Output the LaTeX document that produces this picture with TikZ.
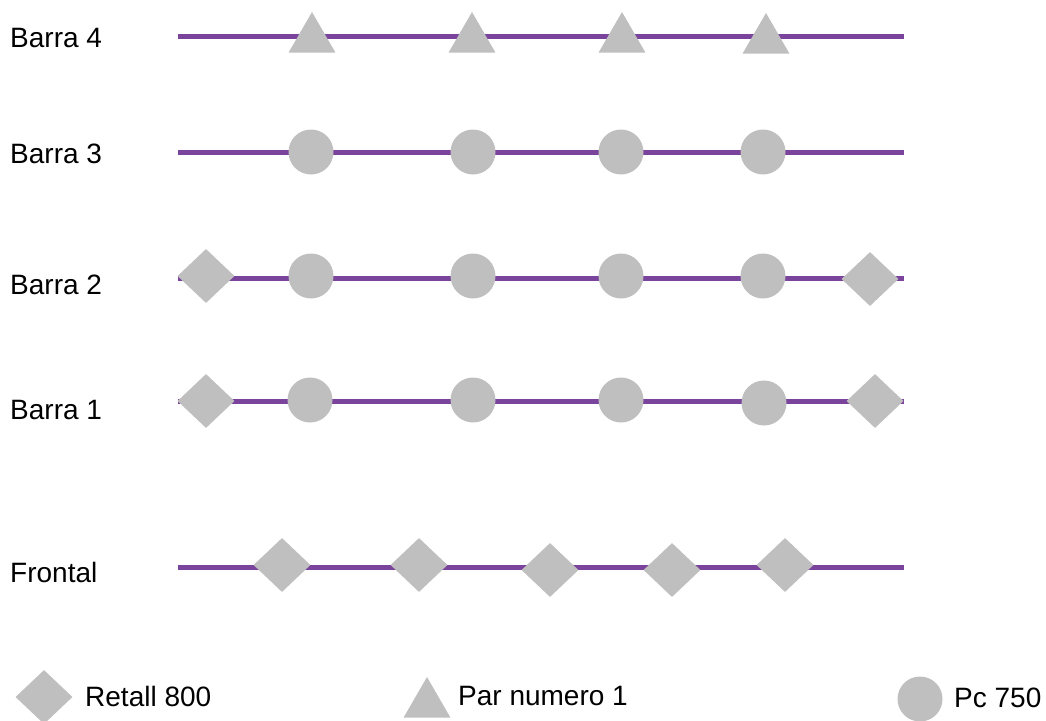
\documentclass[tikz,border=0pt]{standalone}
\usepackage{fontspec}
\setmainfont{Liberation Sans}
\usetikzlibrary{shapes.geometric}
\definecolor{barpurple}{RGB}{122,68,157}
\definecolor{shapegray}{RGB}{191,191,191}
\tikzset{
  bar/.style={draw=barpurple,line width=5pt},
  lbl/.style={anchor=base west,inner sep=0pt,font=\fontsize{28}{33}\selectfont},
  dia/.style={diamond,fill=shapegray,minimum width=57pt,minimum height=54pt,inner sep=0pt},
  tri/.style={regular polygon,regular polygon sides=3,fill=shapegray,minimum size=54pt,inner sep=0pt},
  dot/.style={circle,fill=shapegray,minimum size=45pt,inner sep=0pt}
}
\begin{document}
\begin{tikzpicture}[x=1pt,y=-1pt]
\useasboundingbox (0,0) rectangle (1046,720);
% bars
\coordinate (b4s) at (178,36);  \coordinate (b4e) at (904,36);
\coordinate (b3s) at (178,152); \coordinate (b3e) at (904,152);
\coordinate (b2s) at (178,278); \coordinate (b2e) at (904,278);
\coordinate (b1s) at (178,401); \coordinate (b1e) at (904,401);
\coordinate (fs) at (178,567);  \coordinate (fe) at (904,567);
\draw[bar] (b4s) -- (b4e);
\draw[bar] (b3s) -- (b3e);
\draw[bar] (b2s) -- (b2e);
\draw[bar] (b1s) -- (b1e);
\draw[bar] (fs) -- (fe);
% labels
\node[lbl] (l4) at (10,47.3) {Barra 4};
\node[lbl] (l3) at (10,163.3) {Barra 3};
\node[lbl] (l2) at (10,294.3) {Barra 2};
\node[lbl] (l1) at (10,419.3) {Barra 1};
\node[lbl] (lf) at (10,582.3) {Frontal};
% Barra 4
\node[tri] (t41) at (312,39) {};
\node[tri] (t42) at (472,39) {};
\node[tri] (t43) at (622,39) {};
\node[tri] (t44) at (766,40) {};
% Barra 3
\node[dot] (c31) at (311,152) {};
\node[dot] (c32) at (473,152) {};
\node[dot] (c33) at (621,152) {};
\node[dot] (c34) at (763,152) {};
% Barra 2
\node[dia] (d21) at (206,276) {};
\node[dot] (c21) at (311,276) {};
\node[dot] (c22) at (473,276) {};
\node[dot] (c23) at (621,276) {};
\node[dot] (c24) at (763,276) {};
\node[dia] (d22) at (870,279) {};
% Barra 1
\node[dia] (d11) at (206,401) {};
\node[dot] (c11) at (310,400) {};
\node[dot] (c12) at (473,400) {};
\node[dot] (c13) at (621,400) {};
\node[dot] (c14) at (764,403) {};
\node[dia] (d12) at (875,401) {};
% Frontal
\node[dia] (f1) at (282,565) {};
\node[dia] (f2) at (419,565) {};
\node[dia] (f3) at (550,570) {};
\node[dia] (f4) at (672,570) {};
\node[dia] (f5) at (785,565) {};
% legend
\node[dia] (kd) at (44,697) {};
\node[lbl] (kdt) at (85,706.7) {Retall 800};
\node[tri] (kt) at (427,704) {};
\node[lbl] (ktt) at (458,705.5) {Par numero 1};
\node[dot] (kc) at (920,699) {};
\node[lbl] (kct) at (954,707) {Pc 750};
\end{tikzpicture}
\end{document}
